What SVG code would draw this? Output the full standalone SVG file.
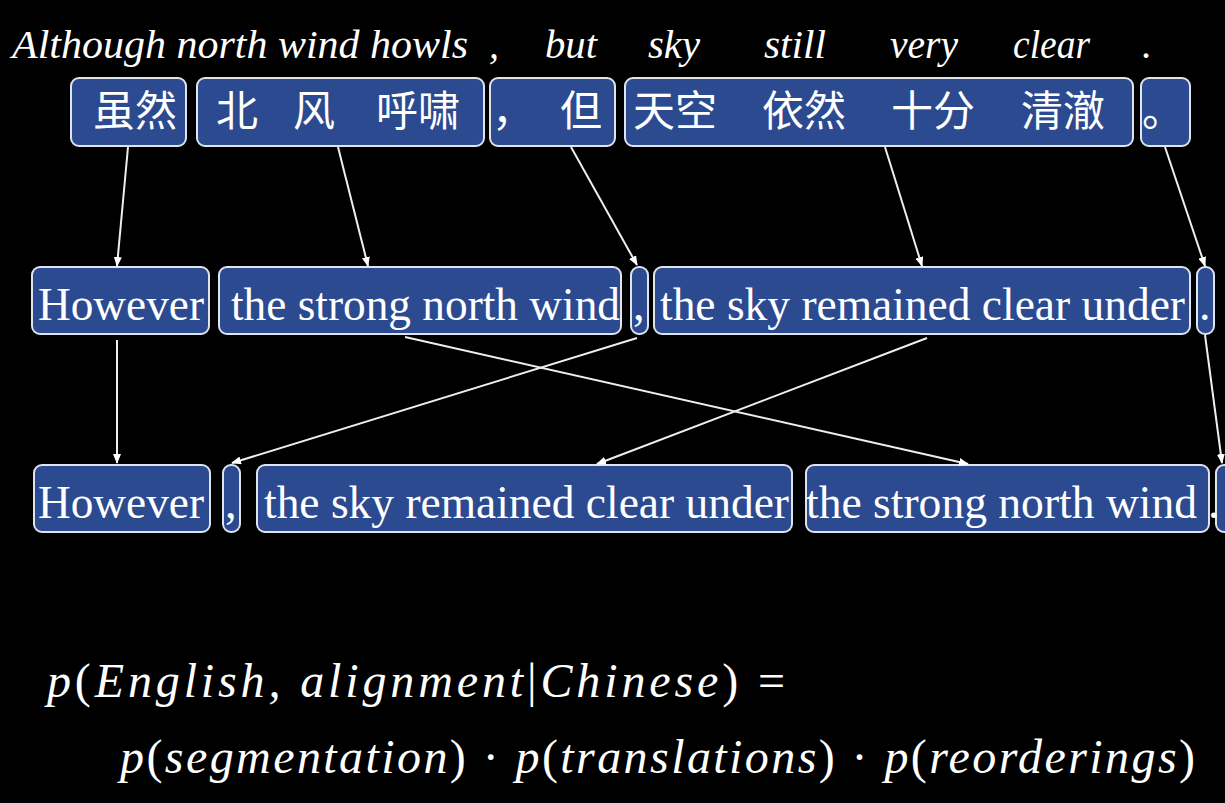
<svg xmlns="http://www.w3.org/2000/svg" width="1225" height="803" viewBox="0 0 1225 803">
<style>
.bx{fill:#2c4a8f;stroke:#dfe3ec;stroke-width:2}
.zh{font-family:"Noto Sans CJK SC",sans-serif;font-size:42px;fill:#ffffff}
.en{font-family:"Liberation Serif",serif;font-size:46px;fill:#ffffff}
.it{font-family:"Liberation Serif",serif;font-style:italic;font-size:40px;fill:#ffffff}
.mt{font-family:"Liberation Serif",serif;font-style:italic;font-size:48px;fill:#ffffff}
.up{font-style:normal}
.cn{stroke:#eeeeee;stroke-width:2;fill:none;marker-end:url(#ah)}
</style>
<defs>
<marker id="ah" markerWidth="10" markerHeight="8" refX="9" refY="4" orient="auto" markerUnits="userSpaceOnUse">
<path d="M0,0 L10,4 L0,8 Z" fill="#ffffff"/>
</marker>
</defs>
<rect width="1225" height="803" fill="#000000"/>

<g id="gloss">
<text class="it" x="12" y="58" textLength="456" lengthAdjust="spacingAndGlyphs">Although north wind howls</text>
<text class="it" x="489" y="58">,</text>
<text class="it" x="545" y="58" textLength="52" lengthAdjust="spacingAndGlyphs">but</text>
<text class="it" x="648" y="58" textLength="52" lengthAdjust="spacingAndGlyphs">sky</text>
<text class="it" x="764" y="58" textLength="62" lengthAdjust="spacingAndGlyphs">still</text>
<text class="it" x="890" y="58" textLength="68" lengthAdjust="spacingAndGlyphs">very</text>
<text class="it" x="1013" y="58" textLength="77" lengthAdjust="spacingAndGlyphs">clear</text>
<text class="it" x="1142" y="58">.</text>
</g>

<g id="zh1"><rect class="bx" x="71" y="78" width="115" height="68" rx="8"/><text class="zh" x="93" y="126">虽然</text></g>
<g id="zh2"><rect class="bx" x="197" y="78" width="287" height="68" rx="8"/><text class="zh" x="216" y="126">北</text><text class="zh" x="293" y="126">风</text><text class="zh" x="376" y="126">呼啸</text></g>
<g id="zh3"><rect class="bx" x="490" y="78" width="125" height="68" rx="8"/><text class="zh" x="492" y="126">，</text><text class="zh" x="560" y="126">但</text></g>
<g id="zh4"><rect class="bx" x="625" y="78" width="508" height="68" rx="8"/><text class="zh" x="633" y="126">天空</text><text class="zh" x="762" y="126">依然</text><text class="zh" x="891" y="126">十分</text><text class="zh" x="1021" y="126">清澈</text></g>
<g id="zh5"><rect class="bx" x="1141" y="78" width="49" height="68" rx="8"/><text class="zh" x="1142" y="126">。</text></g>

<g id="e1"><rect class="bx" x="32" y="267" width="177" height="67" rx="8"/><text class="en" x="38" y="320" textLength="166" lengthAdjust="spacingAndGlyphs">However</text></g>
<g id="e2"><rect class="bx" x="219" y="267" width="402" height="67" rx="8"/><text class="en" x="231" y="320" textLength="389" lengthAdjust="spacingAndGlyphs">the strong north wind</text></g>
<g id="e3"><rect class="bx" x="631" y="267" width="17" height="67" rx="8"/><text class="en" x="633" y="320">,</text></g>
<g id="e4"><rect class="bx" x="654" y="267" width="536" height="67" rx="8"/><text class="en" x="660" y="320" textLength="525" lengthAdjust="spacingAndGlyphs">the sky remained clear under</text></g>
<g id="e5"><rect class="bx" x="1197" y="267" width="17" height="67" rx="8"/><text class="en" x="1199" y="320">.</text></g>

<g id="r1"><rect class="bx" x="34" y="465" width="176" height="67" rx="8"/><text class="en" x="38" y="518" textLength="166" lengthAdjust="spacingAndGlyphs">However</text></g>
<g id="r2"><rect class="bx" x="223" y="465" width="17" height="67" rx="8"/><text class="en" x="225" y="518">,</text></g>
<g id="r3"><rect class="bx" x="257" y="465" width="535" height="67" rx="8"/><text class="en" x="264" y="518" textLength="525" lengthAdjust="spacingAndGlyphs">the sky remained clear under</text></g>
<g id="r4"><rect class="bx" x="806" y="465" width="403" height="67" rx="8"/><text class="en" x="806" y="518" textLength="391" lengthAdjust="spacingAndGlyphs">the strong north wind</text></g>
<g id="r5"><rect class="bx" x="1216" y="465" width="20" height="67" rx="8"/><text class="en" x="1208" y="518">.</text></g>

<g id="connectors">
<line class="cn" x1="128" y1="147" x2="117" y2="266"/>
<line class="cn" x1="338" y1="147" x2="368" y2="266"/>
<line class="cn" x1="571" y1="147" x2="637" y2="265"/>
<line class="cn" x1="885" y1="147" x2="922" y2="266"/>
<line class="cn" x1="1165" y1="147" x2="1205" y2="266"/>
<line class="cn" x1="117" y1="340" x2="117" y2="463"/>
<line class="cn" x1="405" y1="337" x2="968" y2="464"/>
<line class="cn" x1="637" y1="338" x2="232" y2="463"/>
<line class="cn" x1="927" y1="338" x2="597" y2="464"/>
<line class="cn" x1="1205" y1="335" x2="1222" y2="463"/>
</g>

<g id="formula">
<text class="mt" x="47" y="697" textLength="738" lengthAdjust="spacing">p<tspan class="up">(</tspan>English, alignment<tspan class="up">|</tspan>Chinese<tspan class="up">) =</tspan></text>
<text class="mt" x="120" y="773" textLength="1075" lengthAdjust="spacing">p<tspan class="up">(</tspan>segmentation<tspan class="up">) · </tspan>p<tspan class="up">(</tspan>translations<tspan class="up">) · </tspan>p<tspan class="up">(</tspan>reorderings<tspan class="up">)</tspan></text>
</g>
</svg>
